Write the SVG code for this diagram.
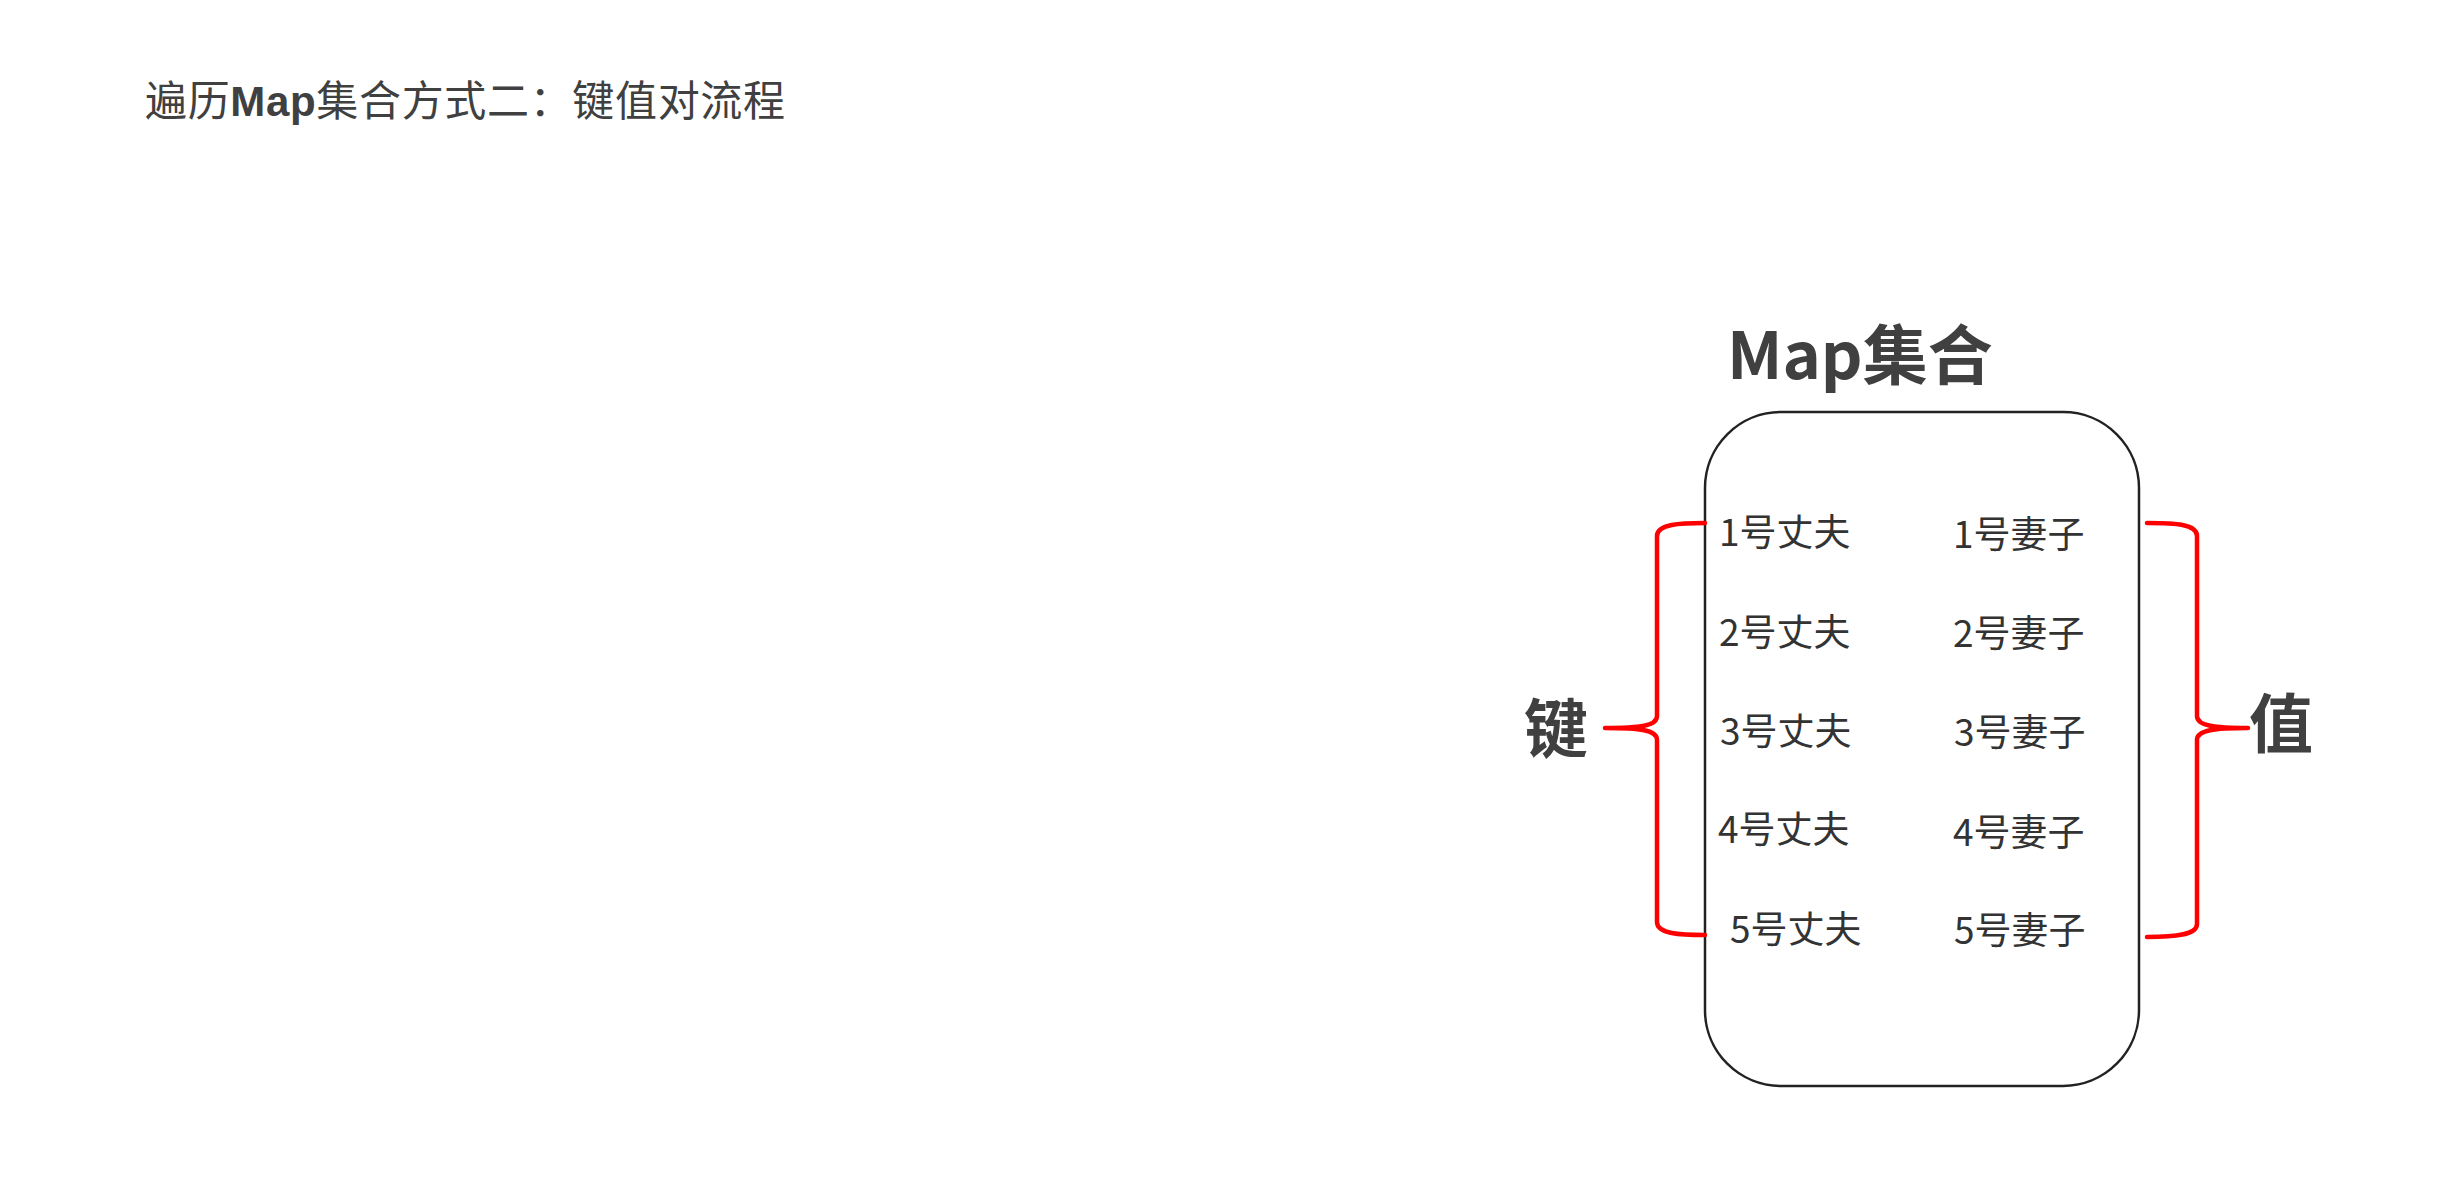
<svg xmlns="http://www.w3.org/2000/svg" width="2457" height="1195" viewBox="0 0 2457 1195">
<style>
.title{font-family:"Noto Sans CJK SC",sans-serif;font-size:42px;fill:#404040}
.latin{font-family:"Liberation Sans","Noto Sans CJK SC",sans-serif;font-weight:bold}
.head{font-family:"Noto Sans CJK SC",sans-serif;font-size:65px;font-weight:bold;fill:#404040}
.item{font-family:"Noto Sans CJK SC",sans-serif;font-size:37px;fill:#333333}
.lbl{font-family:"Noto Sans CJK SC",sans-serif;font-size:64px;font-weight:bold;fill:#404040;text-anchor:middle}
.brace{fill:none;stroke:#ff0000;stroke-width:4.5;stroke-linecap:round;stroke-linejoin:round}
.box{fill:#ffffff;stroke:#222222;stroke-width:2.5}
</style>
<rect width="2457" height="1195" fill="#ffffff"/>
<g id="title">
<text class="title" x="145" y="116" textLength="640" lengthAdjust="spacing">遍历<tspan class="latin">Map</tspan>集合方式二：键值对流程</text>
</g>
<g id="map">
<text class="head" x="1727" y="379">Map集合</text>
<rect class="box" x="1705" y="412" width="434" height="674" rx="76" ry="76"/>
</g>
<g id="keys">
<text class="item" x="1719" y="546">1号丈夫</text>
<text class="item" x="1719" y="646">2号丈夫</text>
<text class="item" x="1720" y="745">3号丈夫</text>
<text class="item" x="1718" y="843">4号丈夫</text>
<text class="item" x="1730" y="943">5号丈夫</text>
</g>
<g id="values">
<text class="item" x="1953" y="548">1号妻子</text>
<text class="item" x="1953" y="647">2号妻子</text>
<text class="item" x="1954" y="746">3号妻子</text>
<text class="item" x="1953" y="846">4号妻子</text>
<text class="item" x="1954" y="944">5号妻子</text>
</g>
<g id="key-label"><text class="lbl" x="1556" y="752">键</text></g>
<g id="value-label"><text class="lbl" x="2281" y="747">值</text></g>
<g id="connectors">
<path class="brace" d="M1705,523 C1680,523 1657,524 1657,536 L1657,716 C1657,726 1640,728 1605,728 C1640,728 1657,730 1657,740 L1657,922 C1657,934 1680,935 1705,935"/>
<path class="brace" d="M2147,523 C2175,523 2197,524 2197,536 L2197,716 C2197,726 2215,728 2248,728 C2215,728 2197,730 2197,740 L2197,924 C2197,935 2175,937 2147,937"/>
</g>
</svg>
